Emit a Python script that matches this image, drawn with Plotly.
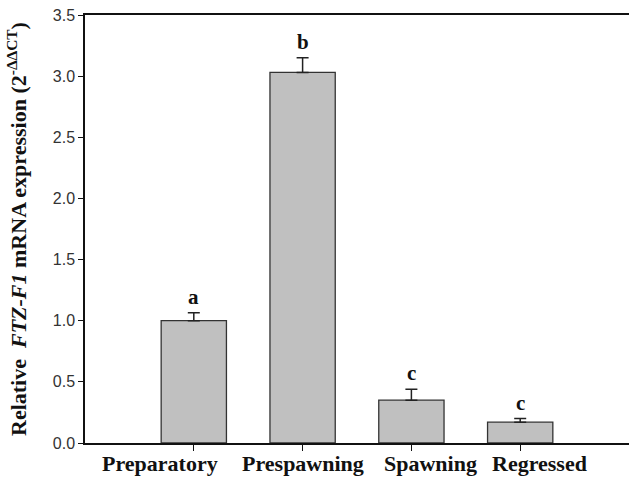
import plotly.graph_objects as go

categories = ["Preparatory", "Prespawning", "Spawning", "Regressed"]
values = [1.00, 3.03, 0.35, 0.17]
errors = [0.065, 0.12, 0.09, 0.03]
letters = ["a", "b", "c", "c"]
y_ticks = [0.0, 0.5, 1.0, 1.5, 2.0, 2.5, 3.0, 3.5]
label_shift = [-34, 0, 19, 19]  # horizontal offsets of category labels (px)

serif = "Liberation Serif, Times New Roman, serif"
sans = "Liberation Sans, Arial, sans-serif"

fig = go.Figure()
fig.add_trace(go.Bar(
    x=list(range(len(categories))),
    y=values,
    width=0.6,
    marker=dict(color="#c0c0c0", line=dict(color="#333333", width=1.3)),
    error_y=dict(type="data", symmetric=False, array=errors,
                 arrayminus=[0] * len(errors), color="#222222",
                 thickness=1.5, width=6),
    showlegend=False,
))

for i, (v, e, l) in enumerate(zip(values, errors, letters)):
    fig.add_annotation(x=i, y=v + e, text="<b>%s</b>" % l, showarrow=False,
                       yanchor="bottom", yshift=2,
                       font=dict(family=serif, size=21, color="#111111"))

for i, (c, s) in enumerate(zip(categories, label_shift)):
    fig.add_annotation(x=i, xref="x", y=0, yref="paper", text="<b>%s</b>" % c,
                       showarrow=False, xanchor="center", yanchor="top",
                       xshift=s, yshift=-6,
                       font=dict(family=serif, size=22, color="#111111"))

fig.add_annotation(
    xref="paper", yref="paper", x=-0.125, y=0.5, xanchor="center", yanchor="middle",
    textangle=-90, showarrow=False,
    text="<b>Relative  <i>FTZ-F1</i> mRNA expression (2<sup>-ΔΔCT</sup>)</b>",
    font=dict(family=serif, size=22, color="#111111"),
)

fig.update_layout(
    width=633, height=477,
    margin=dict(l=85, r=4, t=15, b=34, autoexpand=False),
    paper_bgcolor="white", plot_bgcolor="white",
    xaxis=dict(
        range=[-1, 4.0], tickmode="array", tickvals=list(range(len(categories))),
        showticklabels=False,
        showline=True, linecolor="#111111", linewidth=1.5, mirror=True,
        ticks="outside", ticklen=6, tickwidth=1.3, tickcolor="#111111",
        showgrid=False, zeroline=False, fixedrange=True, automargin=False,
    ),
    yaxis=dict(
        range=[0, 3.5], tickmode="array", tickvals=y_ticks,
        ticktext=["%.1f" % t for t in y_ticks],
        showline=True, linecolor="#111111", linewidth=1.5,
        ticks="outside", ticklen=5, tickwidth=1.3, tickcolor="#111111",
        tickfont=dict(family=sans, size=16, color="#333333"),
        showgrid=False, zeroline=False, fixedrange=True, automargin=False,
    ),
)

fig.write_html("out.html", config={"displayModeBar": False},
               post_script="document.body.style.margin='0px';")
